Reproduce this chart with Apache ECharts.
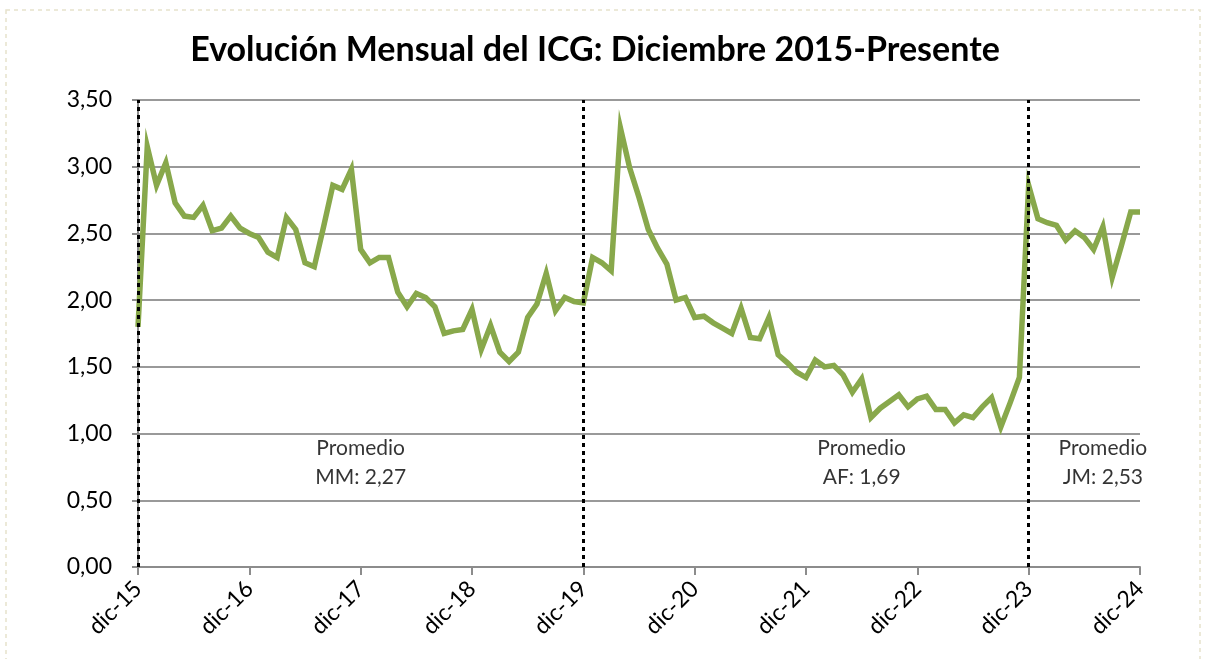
<!DOCTYPE html>
<html lang="es">
<head>
  <meta charset="UTF-8">
  <title>ICG</title>
  <style>
    html, body { margin: 0; padding: 0; background: #fff; }
    #main { width: 1211px; height: 659px; }
  </style>
</head>
<body>
<div id="main"></div>
<script src="https://cdn.jsdelivr.net/npm/echarts@6/dist/echarts.min.js"></script>
<script type="text/javascript">
  // meses dic-15 .. dic-24
  const monthNames = ['ene', 'feb', 'mar', 'abr', 'may', 'jun', 'jul', 'ago', 'sep', 'oct', 'nov', 'dic']
  const months = ['dic-15']
  for (let y = 16; y <= 24; y++) {
    monthNames.forEach(m => months.push(m + '-' + y))
  }

  const icg = [
    1.80, 3.15, 2.86, 3.03, 2.73, 2.63, 2.62, 2.71, 2.52, 2.54, 2.63, 2.54,
    2.50, 2.47, 2.36, 2.32, 2.62, 2.53, 2.28, 2.25, 2.55, 2.86, 2.83, 2.98,
    2.38, 2.28, 2.32, 2.32, 2.06, 1.95, 2.05, 2.02, 1.95, 1.75, 1.77, 1.78,
    1.93, 1.63, 1.81, 1.61, 1.54, 1.61, 1.87, 1.97, 2.20, 1.92, 2.02, 1.99,
    1.98, 2.32, 2.28, 2.22, 3.29, 2.99, 2.77, 2.53, 2.39, 2.27, 2.00, 2.02,
    1.87, 1.88, 1.83, 1.79, 1.75, 1.94, 1.72, 1.71, 1.87, 1.59, 1.53, 1.46,
    1.42, 1.55, 1.50, 1.51, 1.44, 1.31, 1.41, 1.12, 1.19, 1.24, 1.29, 1.20,
    1.26, 1.28, 1.18, 1.18, 1.08, 1.14, 1.12, 1.20, 1.27, 1.05, 1.23, 1.42,
    2.86, 2.61, 2.58, 2.56, 2.45, 2.52, 2.47, 2.38, 2.55, 2.17, 2.41, 2.66,
    2.66
  ]

  // cambios de gobierno (lineas punteadas)
  const breaks = ['dic-15', 'dic-19', 'dic-23']

  // textos de promedio
  const notes = [
    { at: 'dic-17', value: 0.78, text: 'Promedio\nMM: 2,27' },
    { at: 'jun-22', value: 0.78, text: 'Promedio\nAF: 1,69' },
    { at: 'ago-24', value: 0.78, text: 'Promedio\nJM: 2,53' }
  ]

  const yTicks = [0, 0.5, 1, 1.5, 2, 2.5, 3, 3.5]

  const fmt = v => v.toFixed(2).replace('.', ',')
  const font = 'Lato, "Noto Sans", sans-serif'

  const chart = echarts.init(document.getElementById('main'))

  const option = {
    animation: false,
    textStyle: { fontFamily: font },
    title: {
      text: 'Evolución Mensual del ICG: Diciembre 2015-Presente',
      left: 590,
      textAlign: 'center',
      top: 28,
      textStyle: { fontFamily: font, fontWeight: 'bold', fontSize: 34, color: '#000' }
    },
    graphic: [{
      type: 'rect',
      shape: { x: 6, y: 10, width: 1194, height: 660 },
      style: { fill: 'none', stroke: '#e6e2cc', lineWidth: 1.5, lineDash: [4, 4] },
      silent: true
    }],
    grid: { left: 138, right: 71, top: 100, bottom: 92 },
    xAxis: {
      type: 'category',
      data: months,
      boundaryGap: false,
      axisLine: { lineStyle: { color: '#8c8c8c', width: 2 } },
      axisTick: { interval: 11, length: 8, lineStyle: { color: '#8c8c8c', width: 2 } },
      axisLabel: {
        interval: 11,
        rotate: 45,
        margin: 18,
        fontSize: 23,
        color: '#000',
        fontFamily: font
      },
      splitLine: { show: false }
    },
    yAxis: {
      type: 'value',
      min: yTicks[0],
      max: yTicks[yTicks.length - 1],
      interval: 0.5,
      axisLine: { show: true, lineStyle: { color: '#8c8c8c', width: 2 } },
      axisTick: { show: true, length: 6, lineStyle: { color: '#8c8c8c', width: 2 } },
      axisLabel: { formatter: fmt, fontSize: 23, color: '#000', margin: 26, fontFamily: font },
      splitLine: { lineStyle: { color: '#999', width: 2 } }
    },
    series: [
      {
        name: 'ICG',
        type: 'line',
        data: icg,
        symbol: 'none',
        lineStyle: { color: '#88a84b', width: 5.5, join: 'miter' },
        markLine: {
          silent: true,
          symbol: 'none',
          label: { show: false },
          lineStyle: { color: '#000', width: 3, type: [4, 4] },
          data: breaks.map(b => ({ xAxis: b }))
        }
      },
      {
        name: 'notas',
        type: 'scatter',
        symbolSize: 0,
        silent: true,
        data: notes.map(n => ({ value: [n.at, n.value], label: { formatter: n.text } })),
        label: {
          show: true,
          position: 'inside',
          fontSize: 21,
          lineHeight: 29,
          color: '#000',
          fontFamily: font
        }
      }
    ]
  }

  chart.setOption(option)
</script>
</body>
</html>
